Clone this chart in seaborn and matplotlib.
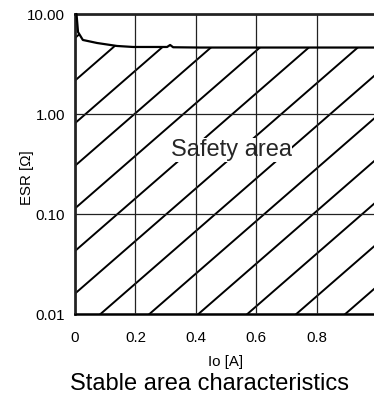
import numpy as np
import pandas as pd
import matplotlib
matplotlib.use("Agg")
import matplotlib.pyplot as plt
from matplotlib.ticker import FixedLocator, NullLocator
import seaborn as sns

# data
io_a = [0.005, 0.01, 0.026, 0.073, 0.139, 0.192, 0.305, 0.315, 0.325, 0.414, 0.6, 0.8, 1.0]
esr_ohm = [10.0, 6.6, 5.5, 5.13, 4.79, 4.68, 4.68, 4.9, 4.65, 4.62, 4.62, 4.62, 4.62]
x_ticks = [0, 0.2, 0.4, 0.6, 0.8]
x_tick_labels = ["0", "0.2", "0.4", "0.6", "0.8"]
y_ticks = [0.01, 0.1, 1, 10]
y_tick_labels = ["0.01", "0.10", "1.00", "10.00"]

df = pd.DataFrame({"Io": io_a, "ESR": esr_ohm})

sns.set_theme(style="white")
plt.rcParams["font.family"] = ["Liberation Sans", "DejaVu Sans"]

fig = plt.figure(figsize=(3.74, 4.0), dpi=100)
ax = fig.add_axes([75 / 374, 86 / 400, 302 / 374, 300 / 400])

sns.lineplot(data=df, x="Io", y="ESR", ax=ax, color="black", linewidth=1.6,
             zorder=4, clip_on=False)
ax.set_yscale("log")
ax.set_xlim(0, 1.0)
ax.set_ylim(0.01, 10)

# safety region under the curve, used to clip the hatch lines
poly = ax.fill_between(io_a, [0.01] * len(io_a), esr_ohm, facecolor="none", linewidth=0)
clip = poly.get_paths()[0]
slope = 0.876
step = 0.142
for k in range(-8, 8):
    c = 0.068 + step * k
    xs = np.array([0.0, 1.0])
    ln, = ax.plot(xs, c + slope * xs, transform=ax.transAxes, color="black",
                  linewidth=1.4, zorder=1.5)
    ln.set_clip_path(clip, ax.transData)

ax.text(0.517, 0.437, "Safety area", fontsize=17, ha="center", va="center",
        zorder=2, bbox=dict(facecolor="white", edgecolor="none", pad=0.5))

ax.xaxis.set_major_locator(FixedLocator(x_ticks))
ax.set_xticklabels(x_tick_labels)
ax.yaxis.set_major_locator(FixedLocator(y_ticks))
ax.yaxis.set_minor_locator(NullLocator())
ax.set_yticklabels(y_tick_labels)
ax.tick_params(axis="both", length=0, labelsize=10.8, colors="black")
ax.tick_params(axis="x", pad=12)
ax.tick_params(axis="y", pad=7)

ax.set_axisbelow(False)
ax.grid(True, color="#222222", linewidth=0.9)

for side in ["left", "bottom", "top"]:
    ax.spines[side].set_color("black")
    ax.spines[side].set_linewidth(1.8)
ax.spines["right"].set_visible(False)

ax.set_xlabel("Io [A]", fontsize=10.8, color="black")
ax.xaxis.set_label_coords(0.50, -0.137)
ax.set_ylabel("ESR [Ω]", fontsize=10.8, color="black")
ax.yaxis.set_label_coords(-0.135, 0.453)

fig.text(209 / 374, 0.04, "Stable area characteristics", fontsize=17,
         ha="center", va="center", color="black")

fig.savefig("out.png", dpi=100)
